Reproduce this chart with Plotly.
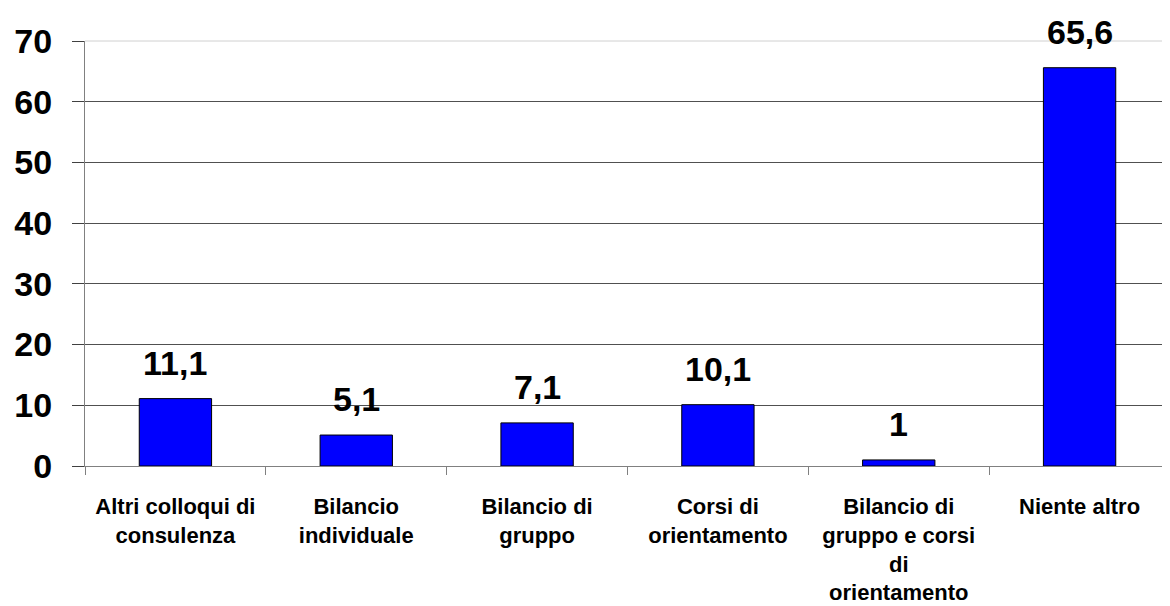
import plotly.graph_objects as go

categories = [
    "Altri colloqui di<br>consulenza",
    "Bilancio<br>individuale",
    "Bilancio di<br>gruppo",
    "Corsi di<br>orientamento",
    "Bilancio di<br>gruppo e corsi<br>di<br>orientamento",
    "Niente altro",
]
values = [11.1, 5.1, 7.1, 10.1, 1, 65.6]
value_labels = ["11,1", "5,1", "7,1", "10,1", "1", "65,6"]
y_ticks = [0, 10, 20, 30, 40, 50, 60, 70]

FONT = "Liberation Sans, Arial, sans-serif"

fig = go.Figure()
fig.add_trace(go.Bar(
    x=categories, y=values,
    marker=dict(color="#0000FF", line=dict(color="#000000", width=1)),
    width=0.4,
))

for c, v, t in zip(categories, values, value_labels):
    fig.add_annotation(
        x=c, y=v, text="<b>%s</b>" % t, showarrow=False,
        yanchor="bottom", yshift=15,
        font=dict(family=FONT, size=34, color="#000000"),
    )

# light top border line (as in reference)
fig.add_shape(type="line", xref="paper", yref="paper", x0=0, x1=1, y0=1, y1=1,
              line=dict(color="#d0d0d0", width=1), layer="above")

# page body has an 8px default margin, so the figure is sized to fit the window
fig.update_layout(
    width=1162, height=598,
    margin=dict(l=77, r=0, t=33, b=140),
    paper_bgcolor="white", plot_bgcolor="white",
    showlegend=False,
    font=dict(family=FONT, color="#000000"),
    bargap=0.6,
)
fig.update_xaxes(
    type="category",
    automargin=False,
    tickson="boundaries",
    ticks="outside", ticklen=8, tickcolor="#808080", tickwidth=1,
    showline=True, linecolor="#808080", linewidth=1,
    showgrid=False,
    tickfont=dict(family=FONT, size=22, color="#000000"),
    ticklabelstandoff=21,
    tickprefix="<b>", ticksuffix="</b>",
)
fig.update_yaxes(
    range=[0, 70],
    automargin=False,
    tickvals=y_ticks,
    ticktext=["<b>%d</b>" % v for v in y_ticks],
    ticks="outside", ticklen=12, tickcolor="#404040", tickwidth=1,
    showline=True, linecolor="#808080", linewidth=1,
    showgrid=True, gridcolor="#505050", gridwidth=1,
    zeroline=False,
    tickfont=dict(family=FONT, size=34, color="#000000"),
    ticklabelstandoff=13,
)

fig.write_html("out.html")
